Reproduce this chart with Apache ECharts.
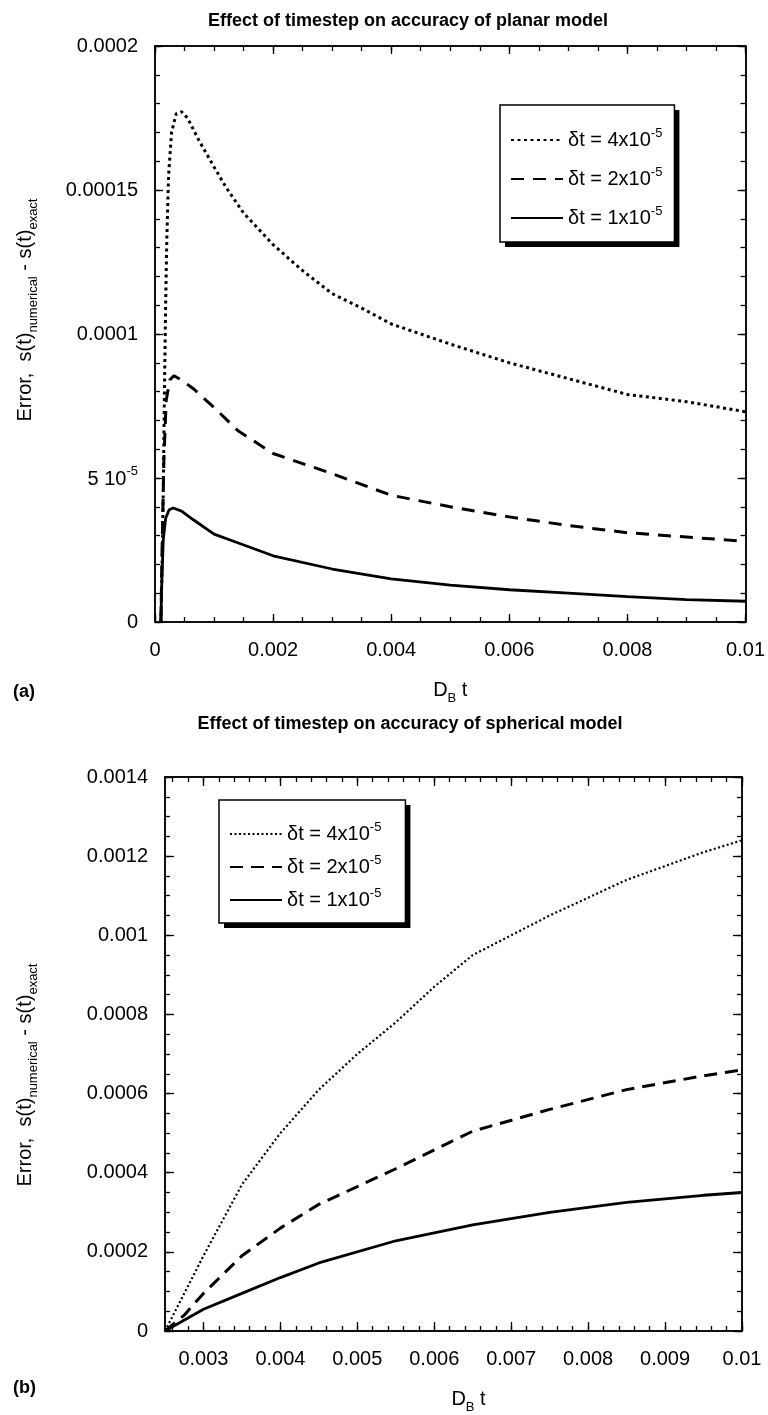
<!DOCTYPE html>
<html>
<head>
<meta charset="utf-8">
<script src="https://cdn.jsdelivr.net/npm/echarts@6.0.0/dist/echarts.min.js"></script>
<style>
    html, body { margin: 0; padding: 0; background: #fff; }
    #main { width: 768px; height: 1415px; }
</style>
</head>
<body>
<div id="main"></div>
<script>
    // (a) planar model: [D_B t, error]
    var planar4 = [[0.0001, 0], [0.00012, 2e-5], [0.00014, 4.5e-5], [0.00016, 8e-5], [0.00018, 1.1e-4], [0.0002, 1.33e-4],
        [0.00023, 1.55e-4], [0.00028, 1.7e-4], [0.00036, 1.765e-4], [0.00045, 1.772e-4], [0.00055, 1.75e-4], [0.00075, 1.67e-4],
        [0.001, 1.58e-4], [0.0012, 1.51e-4], [0.0015, 1.42e-4], [0.002, 1.31e-4], [0.0025, 1.22e-4], [0.003, 1.14e-4],
        [0.0035, 1.09e-4], [0.004, 1.035e-4], [0.005, 9.65e-5], [0.006, 9.0e-5], [0.007, 8.45e-5], [0.008, 7.9e-5],
        [0.009, 7.65e-5], [0.01, 7.3e-5]];
    var planar2 = [[0.0001, 0], [0.00012, 2.5e-5], [0.00015, 5.6e-5], [0.00019, 7.7e-5], [0.00025, 8.4e-5], [0.00032, 8.55e-5],
        [0.00045, 8.4e-5], [0.00065, 8.1e-5], [0.001, 7.45e-5], [0.0014, 6.65e-5], [0.002, 5.85e-5], [0.003, 5.15e-5],
        [0.004, 4.4e-5], [0.005, 4.0e-5], [0.006, 3.65e-5], [0.007, 3.35e-5], [0.008, 3.1e-5], [0.009, 2.95e-5], [0.01, 2.8e-5]];
    var planar1 = [[0.0001, 0], [0.00011, 1.0e-5], [0.00012, 1.7e-5], [0.00014, 2.85e-5], [0.00018, 3.6e-5], [0.00024, 3.9e-5],
        [0.00031, 3.96e-5], [0.00045, 3.85e-5], [0.00065, 3.55e-5], [0.001, 3.05e-5], [0.0014, 2.75e-5], [0.002, 2.3e-5],
        [0.003, 1.84e-5], [0.004, 1.5e-5], [0.005, 1.28e-5], [0.006, 1.12e-5], [0.007, 1.0e-5], [0.008, 8.8e-6],
        [0.009, 7.8e-6], [0.01, 7.2e-6]];

    // (b) spherical model
    var sphere4 = [[0.0025, 0], [0.003, 1.9e-4], [0.0035, 3.7e-4], [0.004, 5.0e-4], [0.0045, 6.1e-4], [0.005, 7.0e-4],
        [0.0055, 7.8e-4], [0.006, 8.7e-4], [0.0065, 9.5e-4], [0.0075, 1.05e-3], [0.0085, 1.14e-3], [0.0095, 1.21e-3], [0.01, 1.24e-3]];
    var sphere2 = [[0.0025, 0], [0.00275, 4e-5], [0.003, 9.5e-5], [0.0035, 1.9e-4], [0.004, 2.6e-4], [0.0045, 3.2e-4],
        [0.0055, 4.1e-4], [0.0065, 5.05e-4], [0.0075, 5.6e-4], [0.0085, 6.1e-4], [0.0095, 6.45e-4], [0.01, 6.6e-4]];
    var sphere1 = [[0.0025, 0], [0.003, 5.5e-5], [0.0035, 9.5e-5], [0.004, 1.35e-4], [0.0045, 1.72e-4], [0.0055, 2.28e-4],
        [0.0065, 2.68e-4], [0.0075, 3.0e-4], [0.0085, 3.25e-4], [0.0095, 3.43e-4], [0.01, 3.5e-4]];

    // tick values and labels
    var topXTicks = [0, 0.002, 0.004, 0.006, 0.008, 0.01];
    var topXLabels = ['0', '0.002', '0.004', '0.006', '0.008', '0.01'];
    var topYTicks = [0, 0.00005, 0.0001, 0.00015, 0.0002];
    var topYLabels = ['0', '{n|5 10}{sup|-5}', '0.0001', '0.00015', '0.0002'];
    var botXTicks = [0.003, 0.004, 0.005, 0.006, 0.007, 0.008, 0.009, 0.01];
    var botXLabels = ['0.003', '0.004', '0.005', '0.006', '0.007', '0.008', '0.009', '0.01'];
    var botYTicks = [0, 0.0002, 0.0004, 0.0006, 0.0008, 0.001, 0.0012, 0.0014];
    var botYLabels = ['0', '0.0002', '0.0004', '0.0006', '0.0008', '0.001', '0.0012', '0.0014'];

    var legendNames = {
        a4: '{n|δt = 4x10}{sup|-5}', a2: '{n|δt = 2x10}{sup|-5}', a1: '{n|δt = 1x10}{sup|-5}',
        b4: '{n|δt = 4x10}{sup|-5}', b2: '{n|δt = 2x10}{sup|-5}', b1: '{n|δt = 1x10}{sup|-5}'
    };

    var FONT = "'Liberation Sans', Arial, Helvetica, sans-serif";

    // minor ticks: integer steps, scaled
    function steps(from, to, step, scale) {
        var out = [];
        for (var i = from; i <= to; i += step) out.push(i / scale);
        return out;
    }
    var topXMinor = steps(0, 100, 5, 10000);
    var topYMinor = steps(0, 20, 1, 100000);
    var botXMinor = steps(26, 100, 2, 10000);
    var botYMinor = steps(0, 28, 1, 20000);

    var richText = {
        n: { fontSize: 20, fontFamily: FONT, color: '#000', verticalAlign: 'bottom', lineHeight: 22 },
        sup: { fontSize: 13, fontFamily: FONT, color: '#000', verticalAlign: 'bottom', lineHeight: 12, padding: [0, 0, 11, 0] },
        sub: { fontSize: 13, fontFamily: FONT, color: '#000', verticalAlign: 'top', lineHeight: 12, padding: [12, 0, 0, 0] },
        m: { fontSize: 20, fontFamily: FONT, color: '#000', verticalAlign: 'top', lineHeight: 22 }
    };

    // one axis of the frame (major or minor ticks, labels only on the main ones)
    function frameAxis(grid, pos, min, max, ticks, len, labels, labelTicks, name, nameGap, namePad) {
        var ax = {
            type: 'value', gridIndex: grid, position: pos, min: min, max: max,
            axisLine: { show: true, onZero: false, lineStyle: { color: '#000', width: 1.5 } },
            splitLine: { show: false },
            axisTick: { show: true, inside: true, length: len, customValues: ticks, lineStyle: { color: '#000', width: 1.3 } },
            axisLabel: { show: false }
        };
        if (labels) {
            ax.axisLabel = {
                show: true, customValues: labelTicks, margin: pos === 'left' ? 17 : 18,
                fontSize: 20, fontFamily: FONT, color: '#000', rich: richText,
                formatter: function (v) {
                    for (var i = 0; i < labelTicks.length; i++) {
                        if (Math.abs(labelTicks[i] - v) < 1e-12) return labels[i];
                    }
                    return '';
                }
            };
        }
        if (name) {
            ax.name = name;
            ax.nameLocation = 'middle';
            ax.nameGap = nameGap;
            ax.nameTextStyle = { rich: richText, padding: namePad || 0 };
            if (pos === 'left') ax.nameRotate = 90;
        }
        return ax;
    }

    var xName = '{m|D}{sub|B}{m| t}';
    var yName = '{m|Error,  s(t)}{sub|numerical}{m| - s(t)}{sub|exact}';

    var xAxes = [
        frameAxis(0, 'bottom', 0, 0.01, topXTicks, 8, topXLabels, topXTicks, xName, 58),
        frameAxis(0, 'bottom', 0, 0.01, topXMinor, 5),
        frameAxis(0, 'top', 0, 0.01, topXTicks, 8),
        frameAxis(0, 'top', 0, 0.01, topXMinor, 5),
        frameAxis(1, 'bottom', 0.0025, 0.01, botXTicks, 9, botXLabels, botXTicks, xName, 58, [0, 0, 0, 30]),
        frameAxis(1, 'bottom', 0.0025, 0.01, botXMinor, 5),
        frameAxis(1, 'top', 0.0025, 0.01, botXTicks, 9),
        frameAxis(1, 'top', 0.0025, 0.01, botXMinor, 5)
    ];
    var yAxes = [
        frameAxis(0, 'left', 0, 0.0002, topYTicks, 8, topYLabels, topYTicks, yName, 118, [0, 0, 0, 48]),
        frameAxis(0, 'left', 0, 0.0002, topYMinor, 5),
        frameAxis(0, 'right', 0, 0.0002, topYTicks, 8),
        frameAxis(0, 'right', 0, 0.0002, topYMinor, 5),
        frameAxis(1, 'left', 0, 0.0014, botYTicks, 9, botYLabels, botYTicks, yName, 128, [0, 42, 0, 0]),
        frameAxis(1, 'left', 0, 0.0014, botYMinor, 5),
        frameAxis(1, 'right', 0, 0.0014, botYTicks, 9),
        frameAxis(1, 'right', 0, 0.0014, botYMinor, 5)
    ];

    function curve(name, data, axis, type, width) {
        return {
            name: name, type: 'line', data: data, xAxisIndex: axis, yAxisIndex: axis,
            symbol: 'none', showSymbol: false, smooth: false, silent: true, animation: false,
            lineStyle: { color: '#000', type: type, width: width, cap: 'butt' },
            itemStyle: { color: '#000' }
        };
    }

    // legend box: drawn twice, a white box with a hard shadow below, the framed box with the items on top
    function legendBox(names, left, top, gap, pad, face) {
        var ink = face ? '#000' : 'transparent';
        var box = {
            data: names, orient: 'vertical', left: left, top: top, align: 'left',
            itemWidth: 52, itemHeight: 14, itemGap: gap, padding: pad,
            selectedMode: false, z: face ? 6 : 5,
            itemStyle: { opacity: 0 },
            textStyle: { fontSize: 20, fontFamily: FONT, color: ink, rich: {
                n: { fontSize: 20, fontFamily: FONT, color: ink, verticalAlign: 'bottom', lineHeight: 20 },
                sup: { fontSize: 13, fontFamily: FONT, color: ink, verticalAlign: 'bottom', lineHeight: 12, padding: [0, 0, 10, 0] }
            } },
            formatter: function (n) { return legendNames[n]; }
        };
        if (face) {
            box.backgroundColor = 'transparent';
            box.borderColor = '#000';
            box.borderWidth = 1.5;
        } else {
            box.backgroundColor = '#fff';
            box.borderWidth = 0;
            box.shadowColor = '#000';
            box.shadowBlur = 0;
            box.shadowOffsetX = 5;
            box.shadowOffsetY = 5;
            box.lineStyle = { opacity: 0 };
        }
        return box;
    }

    var chart = echarts.init(document.getElementById('main'), null, { renderer: 'canvas' });
    chart.setOption({
        animation: false,
        backgroundColor: '#fff',
        title: [
            { text: 'Effect of timestep on accuracy of planar model', left: 403, top: 7, textAlign: 'center',
              textStyle: { fontSize: 18, fontWeight: 'bold', fontFamily: FONT, color: '#000' } },
            { text: 'Effect of timestep on accuracy of spherical model', left: 405, top: 710, textAlign: 'center',
              textStyle: { fontSize: 18, fontWeight: 'bold', fontFamily: FONT, color: '#000' } },
            { text: '(a)', left: 8, top: 678, textStyle: { fontSize: 18, fontWeight: 'bold', fontFamily: FONT, color: '#000' } },
            { text: '(b)', left: 8, top: 1374, textStyle: { fontSize: 18, fontWeight: 'bold', fontFamily: FONT, color: '#000' } }
        ],
        grid: [
            { left: 155, top: 46, width: 593, height: 576 },
            { left: 165, top: 777, width: 577, height: 554 }
        ],
        legend: [
            legendBox(['a4', 'a2', 'a1'], 500, 105, 16, [22, 12, 14, 10], false),
            legendBox(['b4', 'b2', 'b1'], 219, 800, 10, [21, 24, 13, 10], false),
            legendBox(['a4', 'a2', 'a1'], 500, 105, 16, [22, 12, 14, 10], true),
            legendBox(['b4', 'b2', 'b1'], 219, 800, 10, [21, 24, 13, 10], true)
        ],
        xAxis: xAxes,
        yAxis: yAxes,
        series: [
            curve('a4', planar4, 0, [3, 3.5], 3),
            curve('a2', planar2, 0, [13, 9], 3),
            curve('a1', planar1, 0, 'solid', 2.8),
            curve('b4', sphere4, 4, [2, 2.5], 2.2),
            curve('b2', sphere2, 4, [13, 8], 3),
            curve('b1', sphere1, 4, 'solid', 2.8)
        ]
    });
</script>
</body>
</html>
